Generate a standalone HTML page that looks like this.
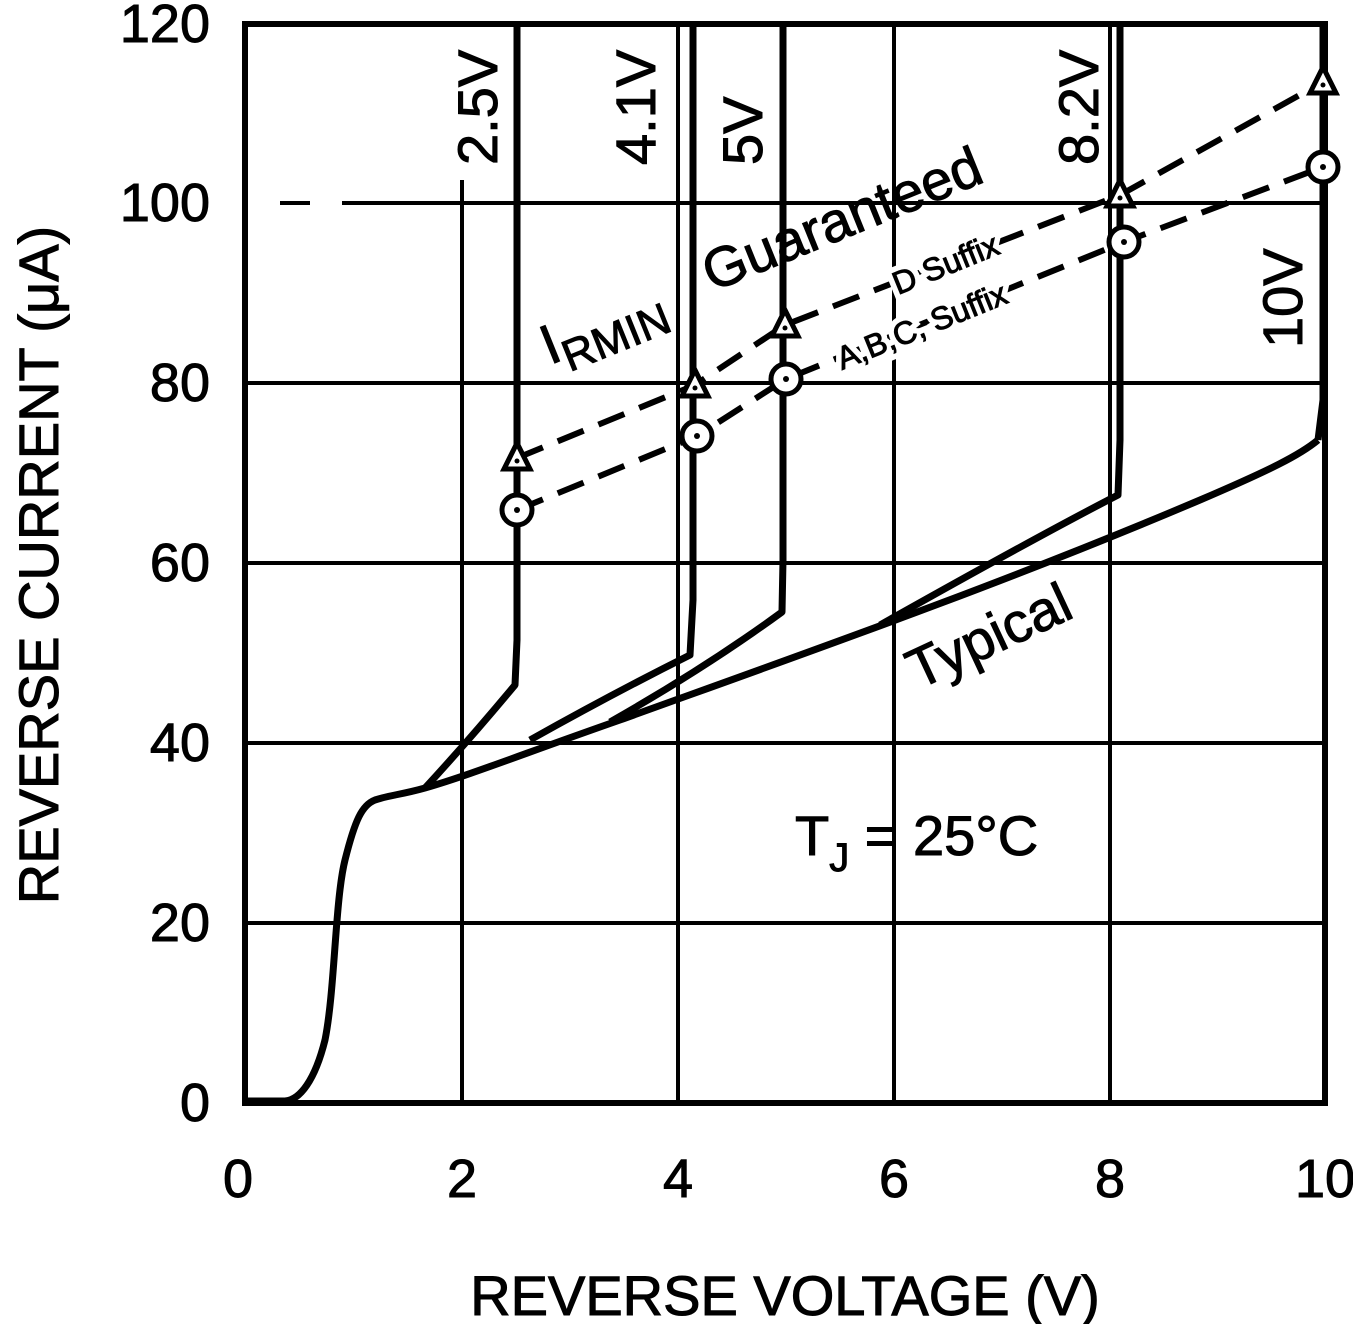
<!DOCTYPE html>
<html><head><meta charset="utf-8"><style>
html,body{margin:0;padding:0;background:#fff}
svg{display:block}
text{font-family:"Liberation Sans",sans-serif;fill:#000;stroke:#000;stroke-width:1}
.halo text{stroke:#fff;stroke-width:12;fill:#fff}
</style></head><body>
<svg width="1353" height="1324" viewBox="0 0 1353 1324" xmlns="http://www.w3.org/2000/svg">
<g stroke="#000" stroke-width="4" fill="none">
<line x1="462" y1="180" x2="462" y2="1103"/>
<line x1="678" y1="24" x2="678" y2="1103"/>
<line x1="894" y1="24" x2="894" y2="1103"/>
<line x1="1110" y1="24" x2="1110" y2="1103"/>
<line x1="245" y1="923" x2="1325" y2="923"/>
<line x1="245" y1="743" x2="1325" y2="743"/>
<line x1="245" y1="563" x2="1325" y2="563"/>
<line x1="245" y1="383" x2="1325" y2="383"/>
<line x1="280" y1="203" x2="310" y2="203"/>
<line x1="342" y1="203" x2="1325" y2="203"/>
</g>
<rect x="245" y="24" width="1080" height="1079" fill="none" stroke="#000" stroke-width="6"/>
<g stroke="#000" stroke-width="7" fill="none" stroke-linejoin="round">
<path d="M245,1101 L285,1101 C300,1100 315,1080 325,1040 C335,990 335,900 345,860 C355,820 362,805 375,800 C390,795 400,795 425,788 C470,775 520,755 620,720 C800,655 1000,585 1200,500 C1270,470 1300,455 1318,440"/>
<path d="M425,788 C460,750 490,715 515,685 L517,640 L517,24"/>
<path d="M530,740 C580,712 640,680 690,655 L693,600 L693,24"/>
<path d="M610,722 C670,688 730,650 782,612 L783,560 L783,24"/>
<path d="M880,625 C960,580 1050,530 1118,495 L1120,440 L1120,24"/>
<path d="M1318,440 L1323,400 L1323,24"/>
</g>
<g stroke="#000" stroke-width="6" fill="none" stroke-dasharray="28,16">
<polyline points="517,458 695,385 785,325 1120,195 1323,82"/>
<polyline points="517,510 697,436 786,379 1124,242 1323,167"/>
</g>
<g class="halo" font-size="32">
<text transform="translate(898,295) rotate(-22)">D Suffix</text>
<text transform="translate(842,370) rotate(-22)">A,B,C, Suffix</text>
</g>
<g stroke="#000" stroke-width="5" fill="#fff">
<circle cx="517" cy="510" r="15"/><circle cx="697" cy="436" r="15"/><circle cx="786" cy="379" r="15"/><circle cx="1124" cy="242" r="15"/><circle cx="1323" cy="167" r="15"/>
<path d="M517,443 l-13,26 h26 z"/><path d="M695,370 l-13,26 h26 z"/><path d="M785,310 l-13,26 h26 z"/><path d="M1120,180 l-13,26 h26 z"/><path d="M1323,67 l-13,26 h26 z"/>
</g>
<g fill="#000">
<circle cx="517" cy="510" r="3"/><circle cx="697" cy="436" r="3"/><circle cx="786" cy="379" r="3"/><circle cx="1124" cy="242" r="3"/><circle cx="1323" cy="167" r="3"/>
<circle cx="517" cy="461" r="2.5"/><circle cx="695" cy="388" r="2.5"/><circle cx="785" cy="328" r="2.5"/><circle cx="1120" cy="198" r="2.5"/><circle cx="1323" cy="85" r="2.5"/>
</g>
<g font-size="54" text-anchor="end">
<text x="210" y="1121">0</text><text x="210" y="941">20</text><text x="210" y="761">40</text><text x="210" y="581">60</text><text x="210" y="401">80</text><text x="210" y="221">100</text><text x="210" y="42">120</text>
</g>
<g font-size="54" text-anchor="middle">
<text x="238" y="1197">0</text><text x="462" y="1197">2</text><text x="678" y="1197">4</text><text x="894" y="1197">6</text><text x="1110" y="1197">8</text><text x="1325" y="1197">10</text>
</g>
<text x="785" y="1315" font-size="56" text-anchor="middle">REVERSE VOLTAGE (V)</text>
<text transform="translate(58,565) rotate(-90)" font-size="56" text-anchor="middle">REVERSE CURRENT (μA)</text>
<g font-size="56">
<text transform="translate(497,165) rotate(-90)">2.5V</text>
<text transform="translate(655,165) rotate(-90)">4.1V</text>
<text transform="translate(762,165) rotate(-90)">5V</text>
<text transform="translate(1098,165) rotate(-90)">8.2V</text>
<text transform="translate(1302,348) rotate(-90)">10V</text>
<text transform="translate(712,292) rotate(-22)">Guaranteed</text>
<text transform="translate(550,365) rotate(-22)">I<tspan font-size="44" dy="14">RMIN</tspan></text>
<text transform="translate(918,690) rotate(-25)">Typical</text>
<text x="795" y="855">T<tspan font-size="40" dy="16">J</tspan><tspan dy="-16"> = 25°C</tspan></text>
</g>
<g font-size="32">
<text transform="translate(898,295) rotate(-22)">D Suffix</text>
<text transform="translate(842,370) rotate(-22)">A,B,C, Suffix</text>
</g>
</svg>
</body></html>
